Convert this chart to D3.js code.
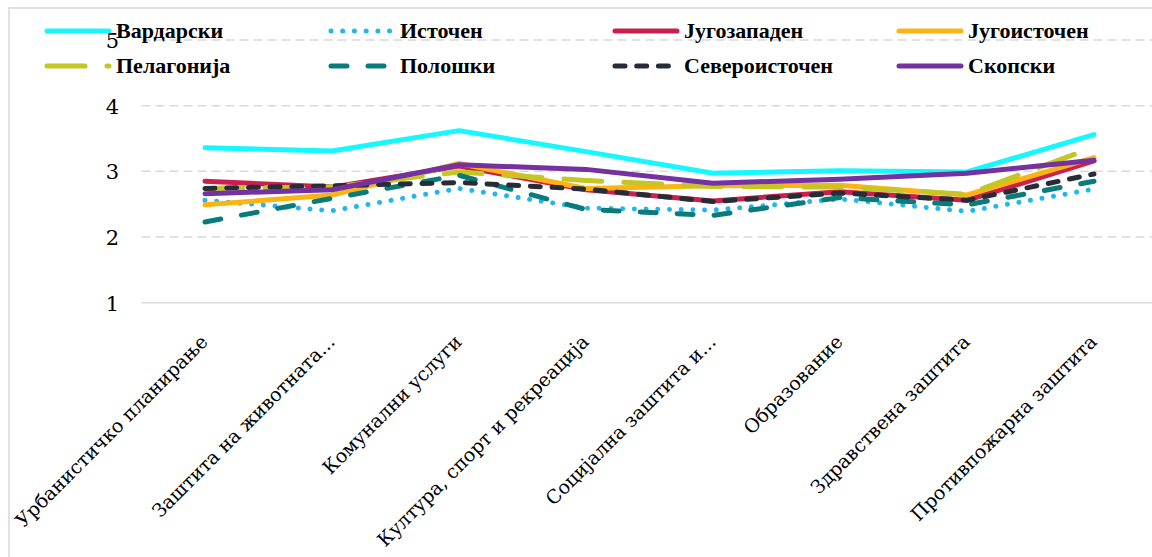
<!DOCTYPE html>
<html>
<head>
<meta charset="utf-8">
<script src="https://cdn.jsdelivr.net/npm/d3@7"></script>
<style>
  body { margin: 0; background: #fff; }
  svg { display: block; }
</style>
</head>
<body>
<script>

// ПОДАТОЦИ

var categories = [
  "Урбанистичко планирање",
  "Заштита на животната...",
  "Комунални услуги",
  "Култура, спорт и рекреација",
  "Социјална заштита и...",
  "Образование",
  "Здравствена заштита",
  "Противпожарна заштита"
];

var seriesNames = ["Вардарски", "Источен", "Југозападен", "Југоисточен",
                   "Пелагонија", "Полошки", "Североисточен", "Скопски"];

var vardarski     = [3.36, 3.31, 3.62, 3.30, 2.97, 3.01, 2.99, 3.56];
var istocen       = [2.56, 2.40, 2.74, 2.44, 2.41, 2.58, 2.39, 2.73];
var jugozapaden   = [2.85, 2.76, 3.08, 2.72, 2.55, 2.69, 2.56, 3.16];
var jugoistocen   = [2.49, 2.64, 3.12, 2.74, 2.78, 2.79, 2.64, 3.21];
var pelagonija    = [2.74, 2.76, 2.99, 2.86, 2.77, 2.76, 2.65, 3.37];
var poloski       = [2.23, 2.59, 2.94, 2.42, 2.33, 2.60, 2.49, 2.85];
var severoistocen = [2.74, 2.78, 2.83, 2.73, 2.54, 2.67, 2.56, 2.96];
var skopski       = [2.66, 2.72, 3.10, 3.03, 2.82, 2.88, 2.97, 3.17];

var yTicks = [1, 2, 3, 4, 5];

var allValues = [vardarski, istocen, jugozapaden, jugoistocen,
                 pelagonija, poloski, severoistocen, skopski];

// СТИЛОВИ НА ЛИНИИТЕ

var colors = ["#17f7ff", "#22b5ee", "#cc1f4c", "#fcb414",
              "#c3c624", "#0a7b7b", "#272d37", "#7332a0"];
var dashes = [null, "0.01,11.7", null, null, "38,22", "16,21", "10,11.7", null];

var W = 1152, H = 557;
var font = "'Liberation Serif', serif";
var font2 = "'DejaVu Serif', serif";

var svg = d3.select("body")
    .append("svg")
    .attr("width", W)
    .attr("height", H);

// РАМКА

svg.append("rect")
    .attr("x", 9)
    .attr("y", 8)
    .attr("width", 1200)
    .attr("height", 600)
    .attr("fill", "none")
    .attr("stroke", "#d9d9d9")
    .attr("stroke-width", 1.5);

// СКАЛИ

var x = d3.scaleBand()
    .domain(categories)
    .range([141.5, 1157.5]);

var y = d3.scaleLinear()
    .domain([1, 5])
    .range([302.7, 40]);

function cx(c) { return x(c) + x.bandwidth() / 2; }

// МРЕЖА

svg.append("g")
  .selectAll("line")
  .data(yTicks)
  .enter()
  .append("line")
    .attr("x1", 141.5)
    .attr("x2", W)
    .attr("y1", function(d) { return y(d); })
    .attr("y2", function(d) { return y(d); })
    .attr("stroke", "#d9d9d9")
    .attr("stroke-width", 1.5)
    .attr("stroke-dasharray", function(d) { return d === 1 ? null : "9,5"; });

// Y ОСКА

var yAxis = svg.append("g")
    .attr("transform", "translate(119,0)")
    .call(d3.axisLeft(y).tickValues(yTicks).tickSize(0).tickPadding(0).tickFormat(d3.format("d")));

yAxis.select(".domain").remove();
yAxis.selectAll("text")
    .attr("font-family", font2)
    .attr("font-size", "21px")
    .attr("fill", "#000")
    .attr("dy", "0.36em");

// X ОСКА - ЗАВРТЕНИ ЕТИКЕТИ

svg.append("g")
  .selectAll("text")
  .data(categories)
  .enter()
  .append("text")
    .attr("transform", function(d) {
      return "translate(" + (cx(d) + 4) + ",343) rotate(-45)";
    })
    .attr("text-anchor", "end")
    .attr("font-family", font2)
    .attr("font-size", "19px")
    .attr("fill", "#000")
    .text(function(d) { return d; });

// ЛИНИИ

var line = d3.line()
    .x(function(d, i) { return cx(categories[i]); })
    .y(function(d) { return y(d); });

allValues.forEach(function(vals, k) {
  svg.append("path")
      .datum(vals)
      .attr("d", line)
      .attr("fill", "none")
      .attr("stroke", colors[k])
      .attr("stroke-width", 5)
      .attr("stroke-linecap", "round")
      .attr("stroke-linejoin", "round")
      .attr("stroke-dasharray", dashes[k]);
});

// ЛЕГЕНДА

var legend = svg.append("g");

seriesNames.forEach(function(name, k) {
  var col = k % 4, row = Math.floor(k / 4);
  var lx = 47 + col * 284;
  var ly = row === 0 ? 31 : 66;

  legend.append("line")
      .attr("x1", lx)
      .attr("x2", lx + 62)
      .attr("y1", ly)
      .attr("y2", ly)
      .attr("stroke", colors[k])
      .attr("stroke-width", 5)
      .attr("stroke-linecap", "round")
      .attr("stroke-dasharray", dashes[k]);

  legend.append("text")
      .attr("x", lx + 69)
      .attr("y", ly + 7)
      .attr("font-family", font)
      .attr("font-weight", "bold")
      .attr("font-size", "22px")
      .attr("fill", "#000")
      .text(name);
});

</script>
</body>
</html>
